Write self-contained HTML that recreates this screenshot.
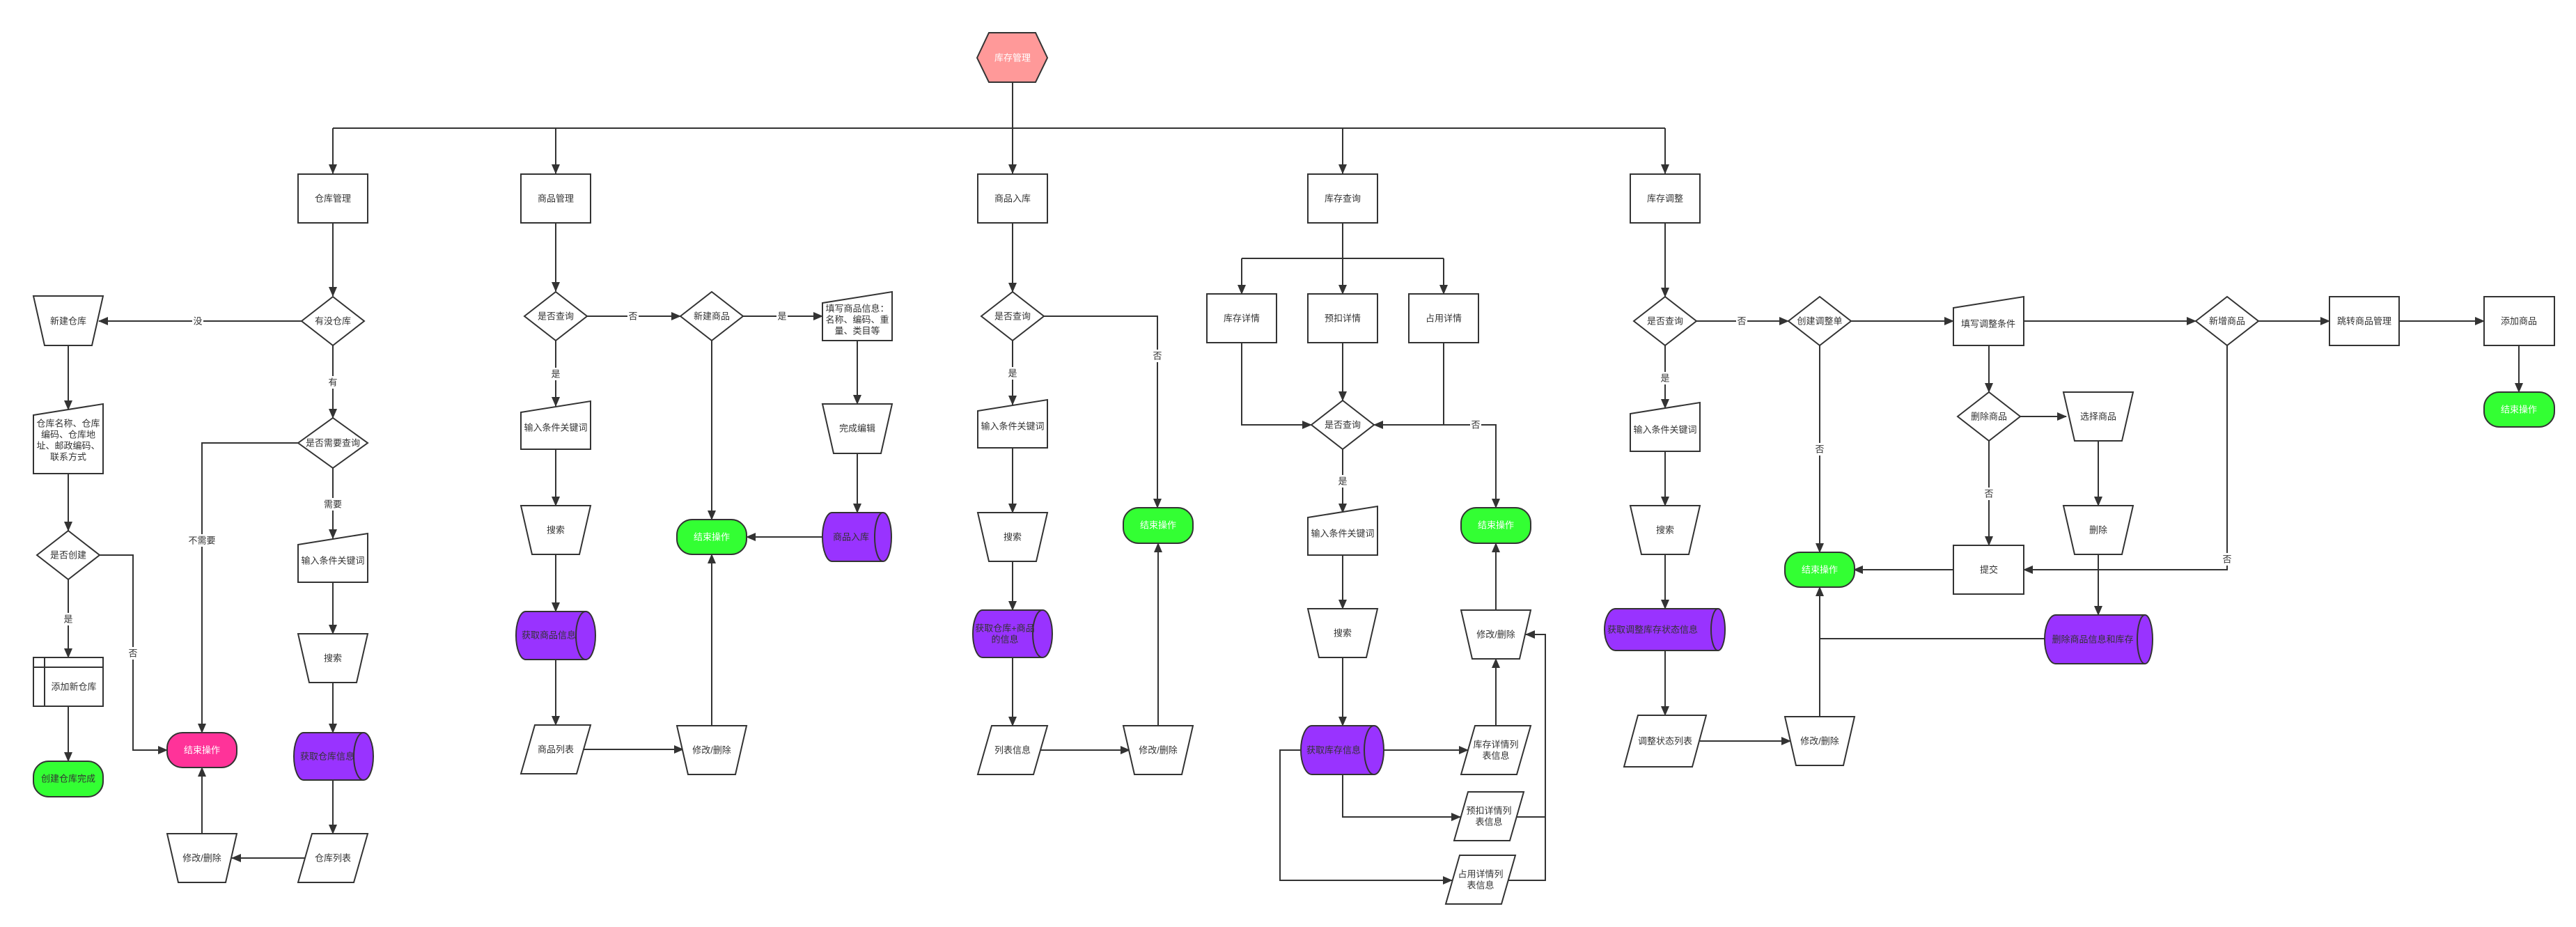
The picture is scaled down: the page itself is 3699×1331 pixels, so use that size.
<!DOCTYPE html>
<html><head><meta charset="utf-8"><style>
html,body{margin:0;padding:0;background:#fff;}
svg{display:block;}
text{font-family:"Liberation Sans","Noto Sans CJK SC",sans-serif;font-size:13px;fill:#333;text-anchor:middle;dominant-baseline:central;}
.s{fill:#fff;stroke:#333;stroke-width:2;}
.p{fill:#9933ff;stroke:#333;stroke-width:2;}
.g{fill:#33ff33;stroke:#333;stroke-width:2;}
.k{fill:#ff3399;stroke:#333;stroke-width:2;}
.l{fill:none;stroke:#333;stroke-width:2;}
.a{fill:none;stroke:#333;stroke-width:2;marker-end:url(#ar);}
.w{fill:#fff;}
.lb{fill:#fff;stroke:none;}
</style></head><body>
<svg width="3699" height="1331" viewBox="0 0 3699 1331" xmlns="http://www.w3.org/2000/svg">
<defs><marker id="ar" markerUnits="userSpaceOnUse" markerWidth="14" markerHeight="12" refX="13" refY="6" orient="auto"><path d="M0,0 L14,6 L0,12 z" fill="#333"/></marker></defs>

<!-- connectors -->
<path class="l" d="M1454,118 V184 M478,184 H2391"/>
<path class="a" d="M478,184 V249"/><path class="a" d="M798,184 V249"/><path class="a" d="M1454,184 V249"/><path class="a" d="M1928,184 V249"/><path class="a" d="M2391,184 V249"/>
<!-- 仓库 -->
<path class="a" d="M478,320 V425"/>
<path class="a" d="M433,461 H142"/>
<path class="a" d="M478,496 V600"/>
<path class="a" d="M98,496 V588"/>
<path class="a" d="M98,680 V762"/>
<path class="a" d="M98,832 V944"/>
<path class="a" d="M98,1014 V1093"/>
<path class="a" d="M143,797 H191 V1077 H240"/>
<path class="a" d="M428,636 H290 V1052"/>
<path class="a" d="M478,672 V773"/>
<path class="a" d="M478,836 V910"/>
<path class="a" d="M478,980 V1052"/>
<path class="a" d="M478,1120 V1197"/>
<path class="a" d="M438,1232 H333"/>
<path class="a" d="M290,1197 V1102"/>
<!-- 商品 -->
<path class="a" d="M798,320 V418"/>
<path class="a" d="M843,454 H977"/>
<path class="a" d="M798,489 V583"/>
<path class="a" d="M798,645 V726"/>
<path class="a" d="M798,796 V878"/>
<path class="a" d="M798,947 V1041"/>
<path class="a" d="M838,1076 H981"/>
<path class="a" d="M1022,489 V746"/>
<path class="a" d="M1022,1042 V796"/>
<path class="a" d="M1067,454 H1181"/>
<path class="a" d="M1231,489 V580"/>
<path class="a" d="M1231,651 V736"/>
<path class="a" d="M1181,771 H1072"/>
<!-- 入库 -->
<path class="a" d="M1454,320 V419"/>
<path class="a" d="M1499,454 H1662 V729"/>
<path class="a" d="M1454,489 V581"/>
<path class="a" d="M1454,643 V736"/>
<path class="a" d="M1454,806 V876"/>
<path class="a" d="M1454,944 V1042"/>
<path class="a" d="M1494,1077 H1622"/>
<path class="a" d="M1663,1042 V780"/>
<!-- 库存查询 -->
<path class="l" d="M1928,320 V371 M1783,371 H2073"/>
<path class="a" d="M1783,371 V422"/><path class="a" d="M1928,371 V422"/><path class="a" d="M2073,371 V422"/>
<path class="a" d="M1783,492 V610 H1883"/>
<path class="a" d="M1928,492 V575"/>
<path class="a" d="M2073,492 V610 H1973"/>
<path class="a" d="M2073,610 H2148 V729"/>
<path class="a" d="M1928,645 V736"/>
<path class="a" d="M1928,797 V874"/>
<path class="a" d="M1928,944 V1042"/>
<path class="a" d="M1987,1077 H2108"/>
<path class="a" d="M1928,1112 V1173 H2097"/>
<path class="a" d="M1868,1077 H1838 V1264 H2085"/>
<path class="a" d="M2148,1042 V946"/>
<path class="l" d="M2178,1173 H2219"/>
<path class="a" d="M2166,1264 H2219 V911 H2191"/>
<path class="a" d="M2148,876 V780"/>
<!-- 调整 -->
<path class="a" d="M2391,320 V426"/>
<path class="a" d="M2436,461 H2568"/>
<path class="a" d="M2391,496 V586"/>
<path class="a" d="M2391,648 V726"/>
<path class="a" d="M2391,796 V874"/>
<path class="a" d="M2391,934 V1027"/>
<path class="a" d="M2441,1064 H2571"/>
<path class="a" d="M2613,1029 V843"/>
<path class="a" d="M2613,496 V793"/>
<path class="a" d="M2658,461 H2805"/>
<path class="a" d="M2906,461 H3153"/>
<path class="a" d="M2856,496 V563"/>
<path class="a" d="M2901,598 H2967"/>
<path class="a" d="M3013,633 V726"/>
<path class="a" d="M3013,796 V883"/>
<path class="l" d="M2937,917 H2613"/>
<path class="a" d="M2856,633 V783"/>
<path class="a" d="M3198,496 V818 H2906"/>
<path class="a" d="M2805,818 H2662"/>
<path class="a" d="M3242,461 H3345"/>
<path class="a" d="M3445,461 H3567"/>
<path class="a" d="M3617,496 V563"/>

<!-- edge labels -->
<g>
<rect class="lb" x="276" y="452" width="16" height="18"/><text x="284" y="461">没</text>
<rect class="lb" x="470" y="540" width="16" height="18"/><text x="478" y="549">有</text>
<rect class="lb" x="464" y="715" width="28" height="18"/><text x="478" y="724">需要</text>
<rect class="lb" x="270" y="767" width="40" height="18"/><text x="290" y="776">不需要</text>
<rect class="lb" x="90" y="880" width="16" height="18"/><text x="98" y="889">是</text>
<rect class="lb" x="183" y="929" width="16" height="18"/><text x="191" y="938">否</text>
<rect class="lb" x="901" y="445" width="16" height="18"/><text x="909" y="454">否</text>
<rect class="lb" x="790" y="528" width="16" height="18"/><text x="798" y="537">是</text>
<rect class="lb" x="1115" y="445" width="16" height="18"/><text x="1123" y="454">是</text>
<rect class="lb" x="1446" y="527" width="16" height="18"/><text x="1454" y="536">是</text>
<rect class="lb" x="1654" y="502" width="16" height="18"/><text x="1662" y="511">否</text>
<rect class="lb" x="2111" y="601" width="16" height="18"/><text x="2119" y="610">否</text>
<rect class="lb" x="1920" y="682" width="16" height="18"/><text x="1928" y="691">是</text>
<rect class="lb" x="2493" y="452" width="16" height="18"/><text x="2501" y="461">否</text>
<rect class="lb" x="2383" y="534" width="16" height="18"/><text x="2391" y="543">是</text>
<rect class="lb" x="2605" y="636" width="16" height="18"/><text x="2613" y="645">否</text>
<rect class="lb" x="2848" y="700" width="16" height="18"/><text x="2856" y="709">否</text>
<rect class="lb" x="3190" y="794" width="16" height="18"/><text x="3198" y="803">否</text>
</g>

<!-- hexagon -->
<polygon points="1403,83 1420,47 1487,47 1504,83 1487,118 1420,118" fill="#ff9999" stroke="#333" stroke-width="2"/>
<text x="1454" y="83" class="w">库存管理</text>

<!-- rects -->
<rect class="s" x="428" y="250" width="100" height="70"/><text x="478" y="285">仓库管理</text>
<rect class="s" x="748" y="250" width="100" height="70"/><text x="798" y="285">商品管理</text>
<rect class="s" x="1404" y="250" width="100" height="70"/><text x="1454" y="285">商品入库</text>
<rect class="s" x="1878" y="250" width="100" height="70"/><text x="1928" y="285">库存查询</text>
<rect class="s" x="2341" y="250" width="100" height="70"/><text x="2391" y="285">库存调整</text>
<rect class="s" x="1733" y="422" width="100" height="70"/><text x="1783" y="457">库存详情</text>
<rect class="s" x="1878" y="422" width="100" height="70"/><text x="1928" y="457">预扣详情</text>
<rect class="s" x="2023" y="422" width="100" height="70"/><text x="2073" y="457">占用详情</text>
<rect class="s" x="2805" y="783" width="101" height="70"/><text x="2856" y="818">提交</text>
<rect class="s" x="3345" y="426" width="100" height="70"/><text x="3395" y="461">跳转商品管理</text>
<rect class="s" x="3567" y="426" width="101" height="70"/><text x="3617" y="461">添加商品</text>
<rect class="s" x="48" y="944" width="100" height="70"/><path class="l" d="M64,944 V1014 M48,958 H148"/><text x="106" y="986">添加新仓库</text>

<!-- diamonds -->
<polygon class="s" points="433,461 478,426 523,461 478,496"/><text x="478" y="461">有没仓库</text>
<polygon class="s" points="428,636 478,600 528,636 478,672"/><text x="478" y="636">是否需要查询</text>
<polygon class="s" points="53,797 98,762 143,797 98,832"/><text x="98" y="797">是否创建</text>
<polygon class="s" points="753,454 798,419 843,454 798,489"/><text x="798" y="454">是否查询</text>
<polygon class="s" points="977,454 1022,419 1067,454 1022,489"/><text x="1022" y="454">新建商品</text>
<polygon class="s" points="1409,454 1454,419 1499,454 1454,489"/><text x="1454" y="454">是否查询</text>
<polygon class="s" points="1883,610 1928,575 1973,610 1928,645"/><text x="1928" y="610">是否查询</text>
<polygon class="s" points="2346,461 2391,426 2436,461 2391,496"/><text x="2391" y="461">是否查询</text>
<polygon class="s" points="2568,461 2613,426 2658,461 2613,496"/><text x="2613" y="461">创建调整单</text>
<polygon class="s" points="2811,598 2856,563 2901,598 2856,633"/><text x="2856" y="598">删除商品</text>
<polygon class="s" points="3153,461 3198,426 3243,461 3198,496"/><text x="3198" y="461">新增商品</text>

<!-- trapezoids (manual operation) -->
<polygon class="s" points="48,425 148,425 132,496 64,496"/><text x="98" y="461">新建仓库</text>
<polygon class="s" points="428,910 528,910 512,980 444,980"/><text x="478" y="945">搜索</text>
<polygon class="s" points="240,1197 340,1197 324,1267 256,1267"/><text x="290" y="1232">修改/删除</text>
<polygon class="s" points="748,726 848,726 832,796 764,796"/><text x="798" y="761">搜索</text>
<polygon class="s" points="972,1042 1072,1042 1056,1112 988,1112"/><text x="1022" y="1077">修改/删除</text>
<polygon class="s" points="1181,580 1281,580 1265,651 1197,651"/><text x="1231" y="615">完成编辑</text>
<polygon class="s" points="1404,736 1504,736 1488,806 1420,806"/><text x="1454" y="771">搜索</text>
<polygon class="s" points="1613,1042 1713,1042 1697,1112 1629,1112"/><text x="1663" y="1077">修改/删除</text>
<polygon class="s" points="1878,874 1978,874 1962,944 1894,944"/><text x="1928" y="909">搜索</text>
<polygon class="s" points="2098,876 2198,876 2182,946 2114,946"/><text x="2148" y="911">修改/删除</text>
<polygon class="s" points="2341,726 2441,726 2425,796 2357,796"/><text x="2391" y="761">搜索</text>
<polygon class="s" points="2563,1029 2663,1029 2647,1099 2579,1099"/><text x="2613" y="1064">修改/删除</text>
<polygon class="s" points="2963,563 3063,563 3047,633 2979,633"/><text x="3013" y="598">选择商品</text>
<polygon class="s" points="2963,726 3063,726 3047,796 2979,796"/><text x="3013" y="761">删除</text>

<!-- manual inputs -->
<polygon class="s" points="48,596 148,580 148,680 48,680"/>
<text x="98" y="608">仓库名称、仓库</text><text x="98" y="624">编码、仓库地</text><text x="98" y="640">址、邮政编码、</text><text x="98" y="656">联系方式</text>
<polygon class="s" points="428,782 528,766 528,836 428,836"/><text x="478" y="805">输入条件关键词</text>
<polygon class="s" points="748,592 848,576 848,645 748,645"/><text x="798" y="614">输入条件关键词</text>
<polygon class="s" points="1181,435 1281,419 1281,489 1181,489"/>
<text x="1231" y="443">填写商品信息：</text><text x="1231" y="459">名称、编码、重</text><text x="1231" y="475">量、类目等</text>
<polygon class="s" points="1404,590 1504,574 1504,643 1404,643"/><text x="1454" y="612">输入条件关键词</text>
<polygon class="s" points="1878,743 1978,727 1978,797 1878,797"/><text x="1928" y="766">输入条件关键词</text>
<polygon class="s" points="2341,594 2441,578 2441,648 2341,648"/><text x="2391" y="617">输入条件关键词</text>
<polygon class="s" points="2805,442 2906,426 2906,496 2805,496"/><text x="2855" y="465">填写调整条件</text>

<!-- parallelograms -->
<polygon class="s" points="448,1197 528,1197 508,1267 428,1267"/><text x="478" y="1232">仓库列表</text>
<polygon class="s" points="768,1041 848,1041 828,1111 748,1111"/><text x="798" y="1076">商品列表</text>
<polygon class="s" points="1424,1042 1504,1042 1484,1112 1404,1112"/><text x="1454" y="1077">列表信息</text>
<polygon class="s" points="2118,1042 2198,1042 2178,1112 2098,1112"/><text x="2148" y="1069">库存详情列</text><text x="2148" y="1085">表信息</text>
<polygon class="s" points="2108,1137 2188,1137 2168,1207 2088,1207"/><text x="2138" y="1164">预扣详情列</text><text x="2138" y="1180">表信息</text>
<polygon class="s" points="2096,1228 2176,1228 2156,1298 2076,1298"/><text x="2126" y="1255">占用详情列</text><text x="2126" y="1271">表信息</text>
<polygon class="s" points="2352,1027 2450,1027 2430,1101 2332,1101"/><text x="2391" y="1064">调整状态列表</text>

<!-- cylinders -->
<g>
<path class="p" d="M436,1052 H522 A14,34 0 0 1 522,1120 H436 A14,34 0 0 1 436,1052 Z"/><path class="l" d="M522,1052 A14,34 0 0 0 522,1120"/><text x="470" y="1086">获取仓库信息</text>
<path class="p" d="M755,878 H841 A14,34.5 0 0 1 841,947 H755 A14,34.5 0 0 1 755,878 Z"/><path class="l" d="M841,878 A14,34.5 0 0 0 841,947"/><text x="788" y="912">获取商品信息</text>
<path class="p" d="M1195,736 H1268 A12,35 0 0 1 1268,806 H1195 A14,35 0 0 1 1195,736 Z"/><path class="l" d="M1268,736 A12,35 0 0 0 1268,806"/><text x="1222" y="771">商品入库</text>
<path class="p" d="M1411,876 H1497 A14,34 0 0 1 1497,944 H1411 A14,34 0 0 1 1411,876 Z"/><path class="l" d="M1497,876 A14,34 0 0 0 1497,944"/><text x="1443" y="902">获取仓库+商品</text><text x="1443" y="918">的信息</text>
<path class="p" d="M1884,1042 H1973 A14,35 0 0 1 1973,1112 H1884 A16,35 0 0 1 1884,1042 Z"/><path class="l" d="M1973,1042 A14,35 0 0 0 1973,1112"/><text x="1915" y="1077">获取库存信息</text>
<path class="p" d="M2320,874 H2467 A10,30 0 0 1 2467,934 H2320 A16,30 0 0 1 2320,874 Z"/><path class="l" d="M2467,874 A10,30 0 0 0 2467,934"/><text x="2373" y="904">获取调整库存状态信息</text>
<path class="p" d="M2952,883 H3080 A11,35 0 0 1 3080,953 H2952 A16,35 0 0 1 2952,883 Z"/><path class="l" d="M3080,883 A11,35 0 0 0 3080,953"/><text x="3005" y="918">删除商品信息和库存</text>
</g>

<!-- terminals -->
<rect class="g" x="48" y="1093" width="100" height="51" rx="22"/><text x="98" y="1118">创建仓库完成</text>
<rect class="k" x="240" y="1052" width="100" height="50" rx="22"/><text x="290" y="1077" class="w">结束操作</text>
<rect class="g" x="972" y="746" width="100" height="50" rx="22"/><text x="1022" y="771" class="w">结束操作</text>
<rect class="g" x="1613" y="729" width="100" height="51" rx="22"/><text x="1663" y="754" class="w">结束操作</text>
<rect class="g" x="2098" y="729" width="100" height="51" rx="22"/><text x="2148" y="754" class="w">结束操作</text>
<rect class="g" x="2563" y="793" width="100" height="50" rx="22"/><text x="2613" y="818" class="w">结束操作</text>
<rect class="g" x="3567" y="563" width="101" height="50" rx="22"/><text x="3617" y="588" class="w">结束操作</text>
</svg>
</body></html>
